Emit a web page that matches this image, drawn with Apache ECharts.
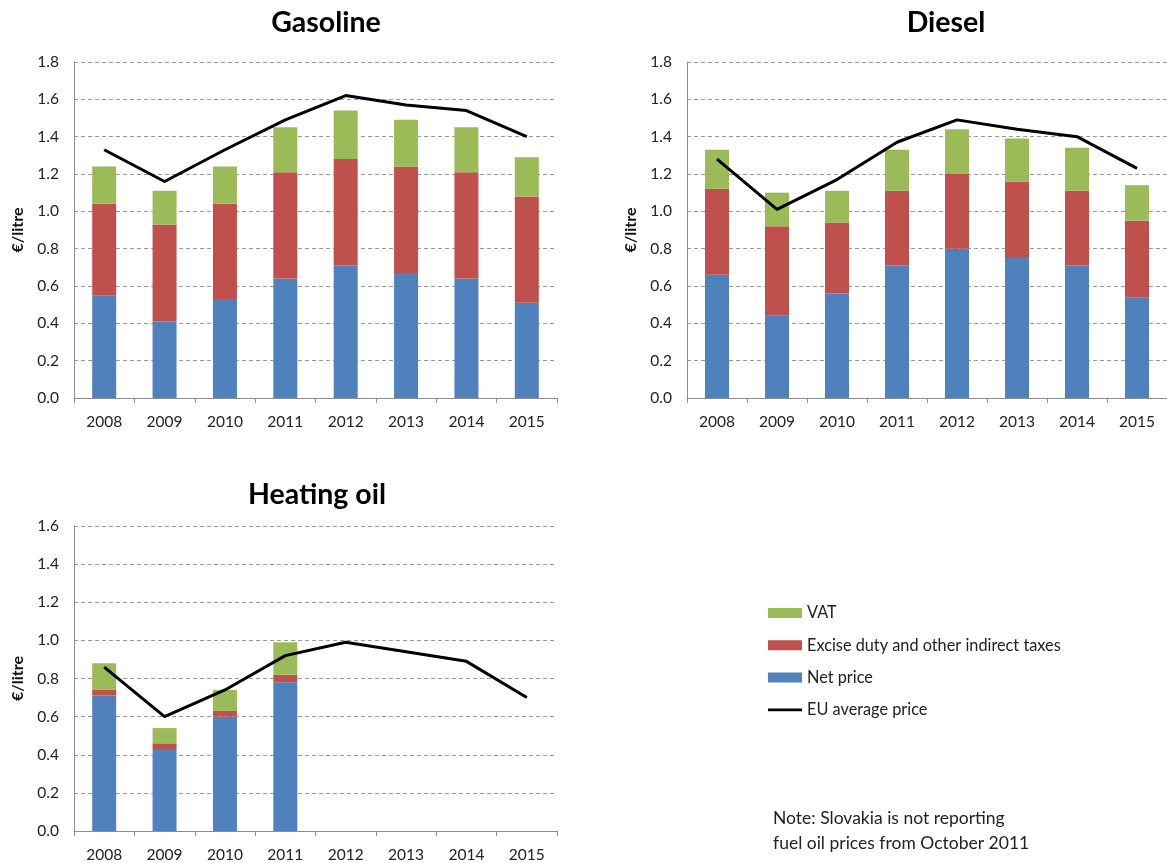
<!DOCTYPE html>
<html>
<head>
<meta charset="utf-8">
<script src="https://cdn.jsdelivr.net/npm/echarts@6/dist/echarts.min.js"></script>
<style>
  html, body { margin: 0; padding: 0; background: #fff; }
  #chart { width: 1167px; height: 863px; }
</style>
</head>
<body>
<div id="chart"></div>
<script>
// ---- Data ----
const years = ['2008', '2009', '2010', '2011', '2012', '2013', '2014', '2015'];

// Gasoline (€/litre)
const gasNet     = [0.55, 0.41, 0.53, 0.64, 0.71, 0.67, 0.64, 0.51];
const gasExcise  = [0.49, 0.52, 0.51, 0.57, 0.57, 0.57, 0.57, 0.57];
const gasVat     = [0.20, 0.18, 0.20, 0.24, 0.26, 0.25, 0.24, 0.21];
const gasEU      = [1.33, 1.16, 1.33, 1.49, 1.62, 1.57, 1.54, 1.40];

// Diesel
const dieNet     = [0.66, 0.44, 0.56, 0.71, 0.80, 0.75, 0.71, 0.54];
const dieExcise  = [0.46, 0.48, 0.38, 0.40, 0.40, 0.41, 0.40, 0.41];
const dieVat     = [0.21, 0.18, 0.17, 0.22, 0.24, 0.23, 0.23, 0.19];
const dieEU      = [1.28, 1.01, 1.17, 1.37, 1.49, 1.44, 1.40, 1.23];

// Heating oil (no data reported from Oct 2011)
const heatNet    = [0.71, 0.43, 0.60, 0.78, null, null, null, null];
const heatExcise = [0.03, 0.03, 0.03, 0.04, null, null, null, null];
const heatVat    = [0.14, 0.08, 0.11, 0.17, null, null, null, null];
const heatEU     = [0.86, 0.60, 0.74, 0.92, 0.99, 0.94, 0.89, 0.70];

const titles = ['Gasoline', 'Diesel', 'Heating oil'];
const yMax = [1.8, 1.8, 1.6];

// ---- Styles ----
const FONT = 'Lato, "Open Sans", sans-serif';
const C_BLUE = '#4F81BD', C_RED = '#C0504D', C_GREEN = '#9BBB59';

const grids = [
  { left: 74, top: 62, width: 483, height: 336 },
  { left: 687, top: 62, width: 480, height: 336 },
  { left: 74, top: 526, width: 483, height: 305 }
];

const xAxes = grids.map((g, i) => ({
  type: 'category', gridIndex: i, data: years, boundaryGap: true,
  axisLine: { lineStyle: { color: '#8c8c8c', width: 1 } },
  axisTick: { show: true, length: 5, interval: 0, lineStyle: { color: '#8c8c8c' } },
  axisLabel: { color: '#222', fontSize: 15.5, fontFamily: FONT, margin: 16, interval: 0 },
  splitLine: { show: false }
}));

const yAxes = grids.map((g, i) => ({
  type: 'value', gridIndex: i, min: 0, max: yMax[i], interval: 0.2,
  name: '€/litre', nameLocation: 'middle', nameGap: 48, nameRotate: 90,
  nameTextStyle: { fontWeight: 'bold', fontSize: 16, fontFamily: FONT, color: '#111' },
  axisLine: { show: true, lineStyle: { color: '#8c8c8c', width: 1 } },
  axisTick: { show: false },
  axisLabel: { color: '#222', fontSize: 15.5, fontFamily: FONT, margin: 15,
               formatter: v => v.toFixed(1) },
  splitLine: { show: true, lineStyle: { color: '#9a9a9a', type: [4, 3], width: 1 } }
}));

const dataSets = [
  [gasNet, gasExcise, gasVat, gasEU],
  [dieNet, dieExcise, dieVat, dieEU],
  [heatNet, heatExcise, heatVat, heatEU]
];

const series = [];
dataSets.forEach((d, i) => {
  const stack = 'stack' + i;
  series.push({ name: 'Net price', type: 'bar', stack, xAxisIndex: i, yAxisIndex: i,
    data: d[0], barWidth: 24, itemStyle: { color: C_BLUE } });
  series.push({ name: 'Excise duty and other indirect taxes', type: 'bar', stack, xAxisIndex: i, yAxisIndex: i,
    data: d[1], barWidth: 24, itemStyle: { color: C_RED } });
  series.push({ name: 'VAT', type: 'bar', stack, xAxisIndex: i, yAxisIndex: i,
    data: d[2], barWidth: 24, itemStyle: { color: C_GREEN } });
  series.push({ name: 'EU average price', type: 'line', xAxisIndex: i, yAxisIndex: i,
    data: d[3], symbol: 'none', z: 5,
    lineStyle: { color: '#000', width: 3 }, itemStyle: { color: '#000' } });
});

const titleCenters = [[321, 3], [941, 3], [312, 475]];

const option = {
  backgroundColor: '#fff',
  animation: false,
  title: titles.map((t, i) => ({
    text: t, left: titleCenters[i][0], top: titleCenters[i][1], textAlign: 'center',
    textStyle: { fontSize: 28.5, fontWeight: 'bold', fontFamily: FONT, color: '#000' }
  })),
  legend: {
    orient: 'vertical', left: 768, top: 605, padding: 0,
    itemWidth: 34, itemHeight: 10, itemGap: 16.3,
    textStyle: { fontSize: 16.3, fontFamily: FONT, color: '#222' },
    data: [
      { name: 'VAT', icon: 'rect' },
      { name: 'Excise duty and other indirect taxes', icon: 'rect' },
      { name: 'Net price', icon: 'rect' },
      { name: 'EU average price', icon: 'path://M0,0H34V2.6H0Z', itemStyle: { color: '#000' } }
    ]
  },
  grid: grids,
  xAxis: xAxes,
  yAxis: yAxes,
  series: series,
  graphic: [
    { type: 'text', left: 773, top: 806,
      style: { text: 'Note: Slovakia is not reporting\nfuel oil prices from October 2011',
               fontSize: 17.5, fontFamily: FONT, fill: '#222', lineHeight: 25 } }
  ]
};

const chart = echarts.init(document.getElementById('chart'), null, { renderer: 'canvas' });
chart.setOption(option);
</script>
</body>
</html>
